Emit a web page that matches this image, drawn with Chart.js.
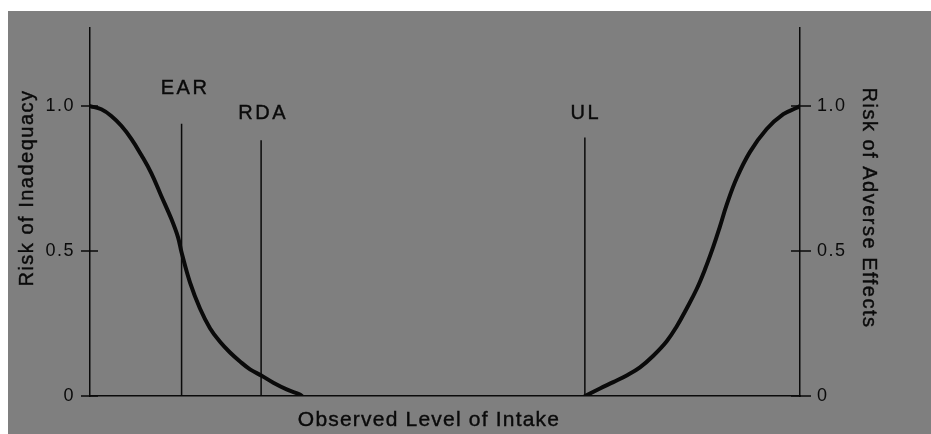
<!DOCTYPE html>
<html>
<head>
<meta charset="utf-8">
<script src="https://cdn.jsdelivr.net/npm/chart.js@4"></script>
<style>
  html,body{margin:0;padding:0;background:#fff;}
  #wrap{width:931px;height:434px;}
</style>
</head>
<body>
<div id="wrap"><canvas id="c" width="931" height="434"></canvas></div>
<script>
// ---- data ----
const leftX  = [0, 1.59, 3.0, 4.41, 5.82, 7.23, 8.63, 10.04, 11.45, 12.39, 12.9, 14.08, 15.49, 16.9, 18.31, 19.72, 21.13, 22.54, 24.18, 25.82, 27.7, 29.58, 29.86];
const leftY  = [1.0, 0.989, 0.966, 0.932, 0.887, 0.831, 0.769, 0.690, 0.611, 0.548, 0.495, 0.392, 0.302, 0.234, 0.187, 0.150, 0.119, 0.092, 0.070, 0.046, 0.023, 0.005, 0];
const rightX = [69.72, 71.83, 73.7, 75.59, 77.46, 79.34, 81.23, 82.63, 84.04, 85.45, 86.62, 87.79, 88.73, 89.68, 91.09, 92.96, 95.31, 97.65, 99.54, 100];
const rightY = [0, 0.026, 0.048, 0.071, 0.099, 0.139, 0.189, 0.240, 0.302, 0.369, 0.437, 0.515, 0.585, 0.660, 0.752, 0.842, 0.921, 0.972, 0.994, 1.0];
const refNames = ['EAR', 'RDA', 'UL'];
const refX     = [12.9, 24.1, 69.7];
const refTop   = [0.939, 0.882, 0.892];
const refLabelY = [1.062, 0.973, 0.973];
const yTicks = [0, 0.5, 1.0];
const yTickLabels = ['0', '0.5', '1.0'];
const leftTitle = 'Risk of Inadequacy';
const rightTitle = 'Risk of Adverse Effects';
const xTitle = 'Observed Level of Intake';

const FONT = '"Liberation Sans", Arial, Helvetica, sans-serif';
const INK = '#0a0a0a';
const BG = '#7f7f7f';

const refDatasets = refNames.map((n, i) => ({
  label: n,
  data: [{x: refX[i], y: 0}, {x: refX[i], y: refTop[i]}],
  borderColor: INK, borderWidth: 1.5, pointRadius: 0, tension: 0
}));

const bgPlugin = {
  id: 'bg',
  beforeDraw(chart) {
    const ctx = chart.ctx;
    ctx.save();
    ctx.fillStyle = '#ffffff';
    ctx.fillRect(0, 0, chart.width, chart.height);
    ctx.fillStyle = BG;
    ctx.fillRect(8, 11, chart.width - 8, chart.height - 11);
    ctx.restore();
    ctx.letterSpacing = '1.5px';
  }
};

function boldText(ctx, t, x, y) {
  ctx.fillText(t, x, y);
  ctx.strokeText(t, x, y);
}

const decoPlugin = {
  id: 'deco',
  afterDraw(chart) {
    const ctx = chart.ctx;
    const xs = chart.scales.x, ys = chart.scales.y;
    const area = chart.chartArea;
    ctx.save();
    ctx.strokeStyle = INK;
    ctx.lineWidth = 1.5;
    // tick marks
    yTicks.forEach(v => {
      const py = ys.getPixelForValue(v);
      ctx.beginPath();
      ctx.moveTo(area.left - 9, py); ctx.lineTo(area.left + 8, py);
      ctx.moveTo(area.right - 9, py); ctx.lineTo(area.right + 11, py);
      ctx.stroke();
    });
    ctx.fillStyle = INK;
    ctx.lineWidth = 0.4;
    ctx.letterSpacing = '2.5px';
    ctx.font = '20px ' + FONT;
    ctx.textAlign = 'center';
    ctx.textBaseline = 'middle';
    refNames.forEach((n, i) => {
      const offs = [3.5, 2, 1][i];
      boldText(ctx, n, xs.getPixelForValue(refX[i]) + offs, ys.getPixelForValue(refLabelY[i]));
    });
    // x title
    ctx.letterSpacing = '1.2px';
    ctx.font = '21px ' + FONT;
    boldText(ctx, xTitle, 429, 420);
    // left title
    ctx.font = '20px ' + FONT;
    ctx.letterSpacing = '1.5px';
    ctx.save();
    ctx.translate(27, 188);
    ctx.rotate(-Math.PI / 2);
    boldText(ctx, leftTitle, 0, 0);
    ctx.restore();
    // right title
    ctx.save();
    ctx.translate(869, 208);
    ctx.rotate(Math.PI / 2);
    boldText(ctx, rightTitle, 0, 0);
    ctx.restore();
    ctx.restore();
  }
};

const yTickCfg = (pad) => ({
  callback: (v) => { const i = yTicks.indexOf(v); return i >= 0 ? yTickLabels[i] : ''; },
  font: {size: 18, family: FONT},
  color: INK,
  padding: pad
});

new Chart(document.getElementById('c'), {
  type: 'line',
  data: {
    datasets: [
      {label: 'Inadequacy', data: leftX.map((x, i) => ({x, y: leftY[i]})),
       borderColor: INK, borderWidth: 4, pointRadius: 0, tension: 0.4, borderCapStyle: 'round', borderJoinStyle: 'round'},
      {label: 'Adverse', data: rightX.map((x, i) => ({x, y: rightY[i]})),
       borderColor: INK, borderWidth: 4, pointRadius: 0, tension: 0.4, borderCapStyle: 'round', borderJoinStyle: 'round'},
      ...refDatasets
    ]
  },
  options: {
    responsive: false,
    animation: false,
    devicePixelRatio: 1,
    layout: {padding: {top: 20, left: 0, right: 0, bottom: 0}},
    plugins: {legend: {display: false}, tooltip: {enabled: false}},
    scales: {
      x: {
        type: 'linear', min: 0, max: 100,
        ticks: {display: false},
        grid: {display: false, drawTicks: false},
        border: {display: true, color: INK, width: 1.5},
        afterFit: (s) => { s.height = 38; }
      },
      y: {
        position: 'left', min: 0, max: 1.27,
        afterBuildTicks: (s) => { s.ticks = yTicks.map(v => ({value: v})); },
        ticks: yTickCfg(15),
        grid: {display: false, drawTicks: false},
        border: {display: true, color: INK, width: 1.5},
        afterFit: (s) => { s.width = 90; }
      },
      y2: {
        position: 'right', min: 0, max: 1.27,
        afterBuildTicks: (s) => { s.ticks = yTicks.map(v => ({value: v})); },
        ticks: yTickCfg(17),
        grid: {display: false, drawTicks: false},
        border: {display: true, color: INK, width: 1.5},
        afterFit: (s) => { s.width = 131; }
      }
    }
  },
  plugins: [bgPlugin, decoPlugin]
});
</script>
</body>
</html>
